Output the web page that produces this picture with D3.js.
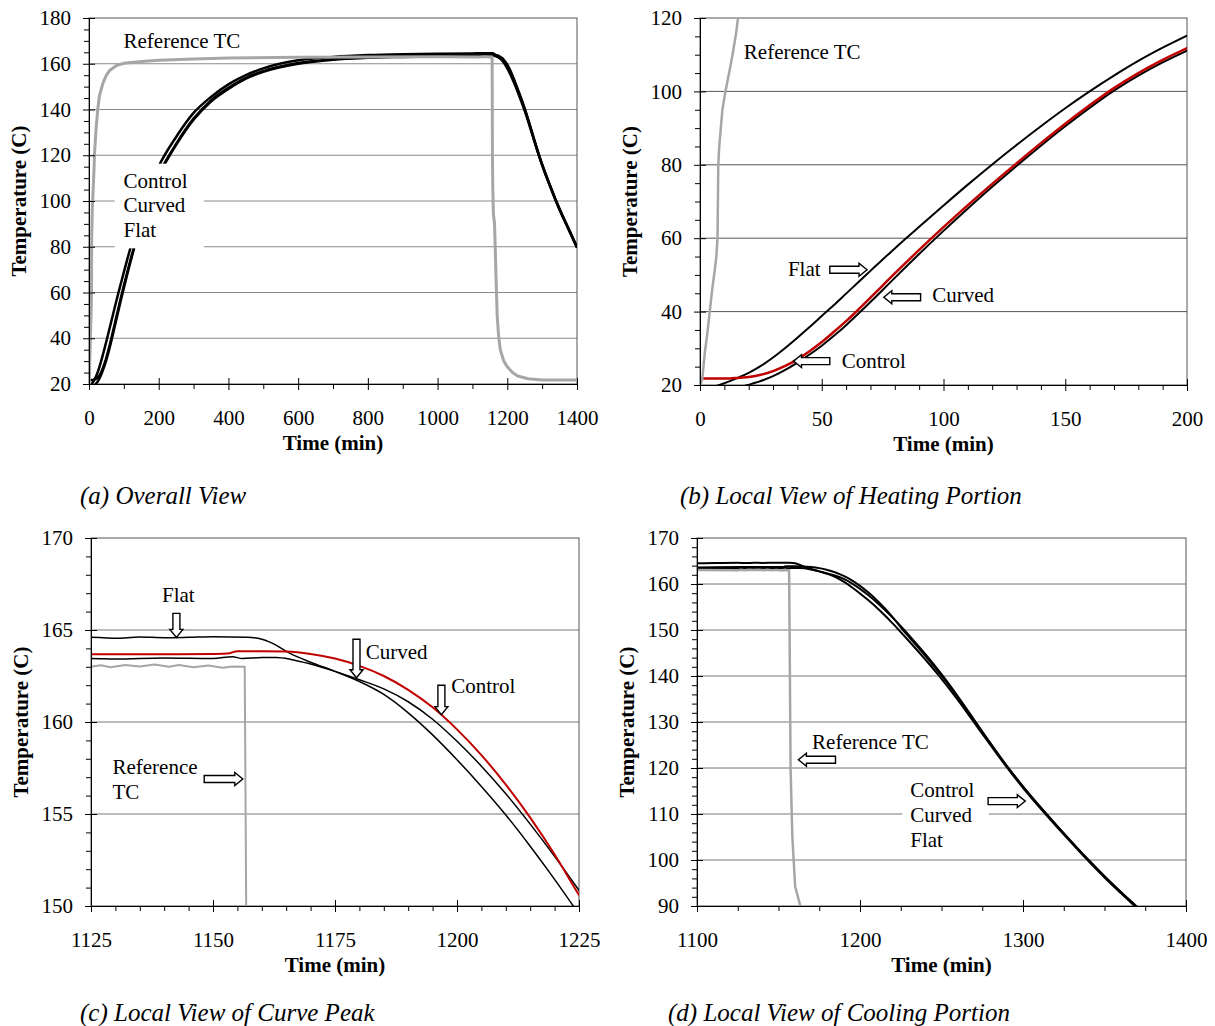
<!DOCTYPE html>
<head>
  <meta charset="utf-8">
  <script src="https://d3js.org/d3.v7.min.js"></script>
  <style>
    body { margin: 0; background: #fff; }
    text { font-family: "Liberation Serif", "Times New Roman", serif; fill: #000; }
  </style>
</head>
<body>
<script>
// Temperature histories [time (min), temperature (C)]
var flat = [[0,18.5],[8,20],[15,21.8],[20,23.3],[25,25.2],[30,27.5],[35,30.1],[40,32.9],[45,35.8],[50,38.8],[55,41.8],
  [60,44.9],[65,48],[70,51.1],[75,54.2],[80,57.2],[85,60.2],[90,63.1],[100,68.9],[110,74.6],[120,80.1],[130,85.4],
  [140,90.5],[150,95.4],[160,100],[170,104.3],[180,108.3],[190,111.9],[200,115.2],[250,128],[300,138.5],[350,145.5],
  [400,151],[450,155],[500,158],[600,161.5],[700,163],[800,163.8],[900,164.2],[1000,164.4],[1100,164.5],[1125,164.6],
  [1130,164.55],[1135,164.62],[1140,164.58],[1145,164.6],[1150,164.63],[1157,164.6],[1160,164.5],[1162,164.3],
  [1166,163.7],[1170,163.25],[1175,162.75],[1180,162.2],[1185,161.5],[1190,160.5],[1195,159.3],[1200,157.95],
  [1205,156.5],[1210,154.95],[1215,153.25],[1220,151.45],[1225,149.55],[1230,147.6],[1240,143.6],[1250,139.4],
  [1260,134.8],[1270,129.9],[1280,125.0],[1290,120.2],[1300,115.7],[1310,111.5],[1320,107.5],[1330,103.6],
  [1340,99.8],[1350,96.2],[1360,92.8],[1370,89.5],[1380,86.2],[1390,82.9],[1400,79.6]];

var curved = [[0,17],[10,18.3],[19.6,20],[25,21.1],[30,22.4],[35,24.1],[40,26.1],[45,28.3],[50,30.7],[55,33.4],[60,36.3],
  [65,39.4],[70,42.6],[75,45.9],[80,49.2],[90,55.7],[100,62.0],[110,68.1],[120,74.0],[130,79.7],[140,85.2],[150,90.5],
  [160,95.5],[170,100.2],[180,104.3],[190,107.9],[200,111.1],[250,124.5],[300,135.5],[350,143.5],[400,149],[450,153.5],
  [500,156.5],[600,160],[700,161.8],[800,162.6],[900,163],[1000,163.3],[1100,163.4],[1125,163.45],[1130,163.42],
  [1140,163.48],[1150,163.45],[1154,163.55],[1156,163.45],[1160,163.5],[1163,163.5],[1166,163.4],[1170,163.15],
  [1175,162.75],[1180,162.3],[1185,161.8],[1190,161.1],[1195,160.15],[1200,158.95],[1205,157.6],[1210,156.1],
  [1215,154.45],[1220,152.7],[1225,150.85],[1230,148.9],[1240,144.8],[1250,140.4],[1260,135.6],[1270,130.5],
  [1280,125.4],[1290,120.5],[1300,116.0],[1310,111.8],[1320,107.8],[1330,103.9],[1340,100.1],[1350,96.5],
  [1360,93.1],[1370,89.8],[1380,86.5],[1390,83.2],[1400,79.9]];

var control = [[0,21.8],[12,21.8],[15,21.9],[20,22.2],[25,22.8],[30,23.8],[35,25.2],[40,27.0],[45,29.2],[50,31.7],
  [55,34.5],[60,37.4],[65,40.5],[70,43.8],[75,47.1],[80,50.4],[90,56.8],[100,63.0],[110,69.0],[120,74.8],[130,80.4],
  [140,85.9],[150,91.2],[160,96.2],[170,100.9],[180,105.0],[190,108.6],[200,111.8],[250,125],[300,136],[350,144],
  [400,149.5],[450,153.8],[500,156.8],[600,160.3],[700,162],[800,162.9],[900,163.3],[1000,163.5],[1100,163.6],
  [1125,163.68],[1140,163.68],[1150,163.7],[1153,163.72],[1155,163.85],[1160,163.85],[1165,163.83],[1170,163.7],
  [1175,163.45],[1180,163.05],[1185,162.5],[1190,161.75],[1195,160.8],[1200,159.6],[1205,158.2],[1210,156.6],
  [1215,154.8],[1220,152.8],[1225,150.6],[1230,148.5],[1240,144.4],[1250,140.1],[1260,135.4],[1270,130.4],
  [1280,125.3],[1290,120.4],[1300,115.9],[1310,111.7],[1320,107.7],[1330,103.8],[1340,100.0],[1350,96.4],
  [1360,93.0],[1370,89.7],[1380,86.4],[1390,83.1],[1400,79.8]];

var refTC = [[0,19],[1,22],[2,29],[3,34],[4,40],[5,46],[6,51],[6.7,55],[7.2,60],[7.5,80],[7.9,85],[9.2,95],[10.3,99.4],
  [12.4,106.6],[13.2,109.4],[14.8,115.7],[15.6,120],[18,126],[20,131],[25,140],[30,146],[40,151.5],[50,155],[60,157.2],
  [80,159.3],[100,160.2],[150,161],[200,161.5],[300,162.1],[400,162.5],[600,162.8],[800,163],[1000,163.1],[1125,163.0],
  [1127,163.08],[1129,162.97],[1132,163.1],[1135,163.02],[1138,163.12],[1141,163.0],[1143,163.1],[1146,162.98],
  [1149,163.07],[1152,162.95],[1154,163.02],[1156.5,163],[1156.8,150],[1157.2,130],[1157.4,120],[1158.5,105],
  [1160.2,94.3],[1163.4,90],[1165,82],[1168,65],[1171,50],[1175,41],[1180,35],[1190,30],[1200,27.5],[1215,25],
  [1230,23.5],[1260,22.3],[1300,21.8],[1350,21.7],[1400,21.8]];

// tick labels
var xTicksA = [0,200,400,600,800,1000,1200,1400], yTicksA = [20,40,60,80,100,120,140,160,180];
var xTicksB = [0,50,100,150,200], yTicksB = [20,40,60,80,100,120];
var xTicksC = [1125,1150,1175,1200,1225], yTicksC = [150,155,160,165,170];
var xTicksD = [1100,1200,1300,1400], yTicksD = [90,100,110,120,130,140,150,160,170];

var W = 1215, H = 1026;
var svg = d3.select("body").append("svg").attr("width", W).attr("height", H);
var defs = svg.append("defs");

var panels = [
  {id:"a", left:89, right:577, top:18, bottom:384, xt:xTicksA, yt:yTicksA, xm:100, ym:5,
   caption:"(a) Overall View", capX:80, capY:495, redCtl:false, lwB:2.5, lwR:2.5, lwG:3, grid:"#8a8a8a",
   boxes:[[73.6,329.7,79.3,116.3]],
   labels:[["Reference TC",99,170.1,"start"],["Control",99,109,"start"],["Curved",99,98.2,"start"],["Flat",99,87.3,"start"]],
   arrows:[]},
  {id:"b", left:700, right:1187, top:18, bottom:385, xt:xTicksB, yt:yTicksB, xm:10, ym:5,
   caption:"(b) Local View of Heating Portion", capX:680, capY:495, redCtl:true, lwB:2, lwR:2.5, lwG:2.5, grid:"#555",
   boxes:[[92.4,128.4,41.5,47.5]],
   labels:[["Reference TC",18,110.7,"start"],["Flat",36.1,51.6,"start"],["Curved",95.4,44.5,"start"],["Control",58.2,26.5,"start"]],
   arrows:[[53.3,51.4,68.6,51.4],[90.6,43.9,75.5,43.9],[53.3,26.5,38.4,26.5]]},
  {id:"c", left:91, right:579, top:538, bottom:906, xt:xTicksC, yt:yTicksC, xm:5, ym:1,
   caption:"(c) Local View of Curve Peak", capX:80, capY:1012, redCtl:true, lwB:1.5, lwR:2, lwG:2, grid:"#777",
   boxes:[],
   labels:[["Flat",1142.9,166.9,"middle"],["Curved",1181.3,163.8,"start"],["Control",1198.8,162,"start"],
           ["Reference",1129.4,157.6,"start"],["TC",1129.4,156.2,"start"]],
   arrows:[[1142.5,165.9,1142.5,164.6],[1179.4,164.5,1179.4,162.4],[1196.8,162.0,1196.8,160.4],[1148.2,156.9,1156.1,156.9]]},
  {id:"d", left:697, right:1186, top:538, bottom:906, xt:xTicksD, yt:yTicksD, xm:25, ym:2,
   caption:"(d) Local View of Cooling Portion", capX:668, capY:1012, redCtl:false, lwB:2, lwR:2, lwG:2.5, grid:"#777",
   boxes:[[1226,1279,102,118]],
   labels:[["Reference TC",1170.6,125.8,"start"],["Control",1230.8,115.3,"start"],["Curved",1230.8,109.9,"start"],["Flat",1230.8,104.5,"start"]],
   arrows:[[1185,121.8,1162.2,121.8],[1278.6,112.8,1301.4,112.8]]}
];

function arrowPath(x1, y1, x2, y2) {
  var dx = x2 - x1, dy = y2 - y1, len = Math.sqrt(dx*dx + dy*dy);
  var ux = dx/len, uy = dy/len, nx = -uy, ny = ux;
  var w = 3.5, h = 6.5, L = 8;
  var kx = x2 - ux*L, ky = y2 - uy*L;
  var pts = [[x1+nx*w, y1+ny*w],[kx+nx*w, ky+ny*w],[kx+nx*h, ky+ny*h],[x2, y2],
             [kx-nx*h, ky-ny*h],[kx-nx*w, ky-ny*w],[x1-nx*w, y1-ny*w]];
  return "M" + pts.map(function(p){ return p[0].toFixed(1) + "," + p[1].toFixed(1); }).join("L") + "Z";
}

panels.forEach(function(p) {
  var xd = [p.xt[0], p.xt[p.xt.length-1]], yd = [p.yt[0], p.yt[p.yt.length-1]];
  var x = d3.scaleLinear().domain(xd).range([p.left, p.right]);
  var y = d3.scaleLinear().domain(yd).range([p.bottom, p.top]);
  var g = svg.append("g");

  // grid lines
  g.selectAll(".grid").data(p.yt.slice(1, -1)).enter().append("line")
    .attr("x1", p.left).attr("x2", p.right)
    .attr("y1", function(d){ return y(d); }).attr("y2", function(d){ return y(d); })
    .attr("stroke", p.grid).attr("stroke-width", 1);
  g.append("rect").attr("x", p.left).attr("y", p.top)
    .attr("width", p.right - p.left).attr("height", p.bottom - p.top)
    .attr("fill", "none").attr("stroke", "#555").attr("stroke-width", 1);

  defs.append("clipPath").attr("id", "clip-" + p.id).append("rect")
    .attr("x", p.left).attr("y", p.top).attr("width", p.right - p.left).attr("height", p.bottom - p.top);

  var line = d3.line().x(function(d){ return x(d[0]); }).y(function(d){ return y(d[1]); }).curve(d3.curveMonotoneX);
  var lineLin = d3.line().x(function(d){ return x(d[0]); }).y(function(d){ return y(d[1]); });
  var lg = g.append("g").attr("clip-path", "url(#clip-" + p.id + ")");
  [flat, curved].forEach(function(s) {
    lg.append("path").attr("d", line(s)).attr("fill", "none").attr("stroke", "#000").attr("stroke-width", p.lwB);
  });
  lg.append("path").attr("d", line(control)).attr("fill", "none")
    .attr("stroke", p.redCtl ? "#c00000" : "#000").attr("stroke-width", p.redCtl ? p.lwR : p.lwB);
  lg.append("path").attr("d", lineLin(refTC)).attr("fill", "none").attr("stroke", "#a6a6a6")
    .attr("stroke-width", p.lwG).attr("stroke-linejoin", "round");

  // white boxes behind labels
  p.boxes.forEach(function(b) {
    g.append("rect").attr("x", x(b[0])).attr("y", y(b[3]))
      .attr("width", x(b[1]) - x(b[0])).attr("height", y(b[2]) - y(b[3])).attr("fill", "#fff");
  });
  p.labels.forEach(function(l) {
    g.append("text").attr("x", x(l[1])).attr("y", y(l[2])).attr("dy", "0.35em")
      .attr("text-anchor", l[3]).style("font-size", "21px").text(l[0]);
  });
  p.arrows.forEach(function(a) {
    g.append("path").attr("d", arrowPath(x(a[0]), y(a[1]), x(a[2]), y(a[3])))
      .attr("fill", "#fff").attr("stroke", "#000").attr("stroke-width", 1.4);
  });

  // axes
  var xMinor = d3.range(xd[0], xd[1] + 1e-9, p.xm).filter(function(v){ return p.xt.indexOf(v) < 0; });
  var yMinor = d3.range(yd[0], yd[1] + 1e-9, p.ym).filter(function(v){ return p.yt.indexOf(v) < 0; });
  g.append("g").attr("transform", "translate(0," + p.bottom + ")")
    .call(d3.axisBottom(x).tickValues(xMinor).tickSize(5).tickFormat(""))
    .call(function(s){ s.select(".domain").remove(); });
  g.append("g").attr("transform", "translate(" + p.left + ",0)")
    .call(d3.axisLeft(y).tickValues(yMinor).tickSize(5).tickFormat(""))
    .call(function(s){ s.select(".domain").remove(); });
  var xa = g.append("g").attr("transform", "translate(0," + p.bottom + ")")
    .call(d3.axisBottom(x).tickValues(p.xt).tickSizeOuter(0).tickSizeInner(6).tickPadding(20).tickFormat(d3.format("d")));
  xa.selectAll(".tick line").attr("y1", -6);
  var ya = g.append("g").attr("transform", "translate(" + p.left + ",0)")
    .call(d3.axisLeft(y).tickValues(p.yt).tickSizeOuter(0).tickSizeInner(6).tickPadding(12).tickFormat(d3.format("d")));
  ya.selectAll(".tick line").attr("x1", 6);
  g.selectAll(".tick text").style("font-size", "21px").style("font-family", "Liberation Serif, Times New Roman, serif");

  g.append("text").attr("x", (p.left + p.right) / 2).attr("y", p.bottom + 59).attr("dy", "0.35em")
    .attr("text-anchor", "middle").style("font-size", "21px").style("font-weight", "bold").text("Time (min)");
  g.append("text").attr("transform", "translate(" + (p.left - 70) + "," + ((p.top + p.bottom) / 2) + ") rotate(-90)")
    .attr("dy", "0.35em").attr("text-anchor", "middle").style("font-size", "21px").style("font-weight", "bold")
    .text("Temperature (C)");
  svg.append("text").attr("x", p.capX).attr("y", p.capY).attr("dy", "0.35em")
    .style("font-size", "25px").style("font-style", "italic").text(p.caption);
});
</script>
</body>
